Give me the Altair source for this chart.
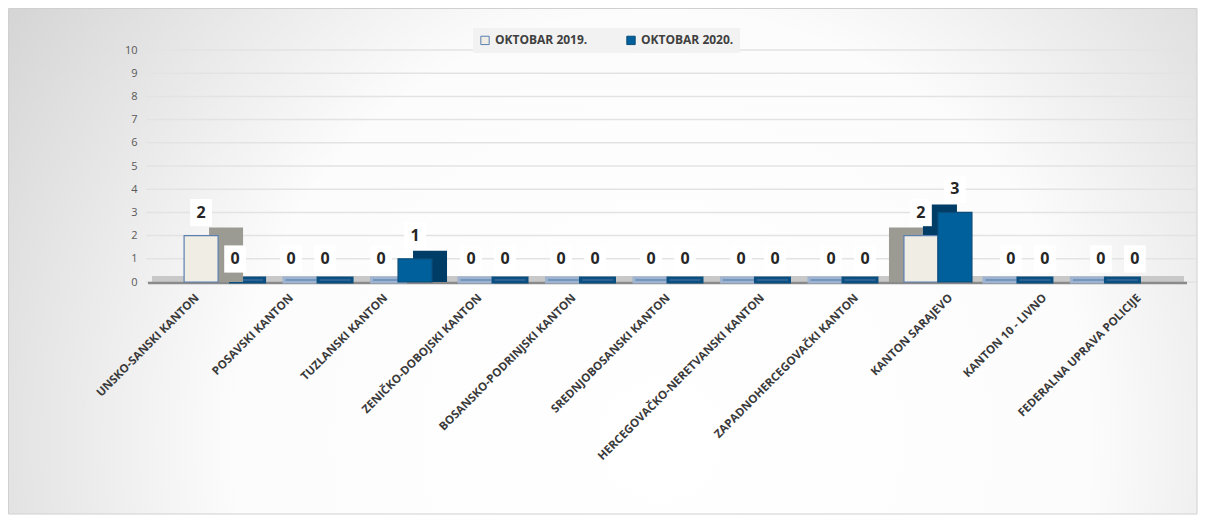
import json
import altair as alt
import pandas as pd

categories = ["UNSKO-SANSKI KANTON", "POSAVSKI KANTON", "TUZLANSKI KANTON",
              "ZENIČKO-DOBOJSKI KANTON", "BOSANSKO-PODRINJSKI KANTON",
              "SREDNJOBOSANSKI KANTON", "HERCEGOVAČKO-NERETVANSKI KANTON",
              "ZAPADNOHERCEGOVAČKI KANTON", "KANTON SARAJEVO",
              "KANTON 10 - LIVNO", "FEDERALNA UPRAVA POLICIJE"]
series = ["OKTOBAR 2019.", "OKTOBAR 2020."]
values_2019 = [2, 0, 0, 0, 0, 0, 0, 0, 2, 0, 0]
values_2020 = [0, 0, 1, 0, 0, 0, 0, 0, 3, 0, 0]
y_ticks = list(range(0, 11))
colors = ["#f0eee4", "#00609c"]

rows = []
for i, (c, a, b) in enumerate(zip(categories, values_2019, values_2020)):
    rows.append({"idx": i, "cat": c, "series": series[0], "s": 0, "value": a})
    rows.append({"idx": i, "cat": c, "series": series[1], "s": 1, "value": b})
df = pd.DataFrame(rows)

W, H = 1036, 232
PL, PT, PR, PB = 142, 42, 1190 - 142 - 1036, 233
BW = 0.361      # bar width in category units
STEP = 0.9554   # bars sit slightly closer together than the labels (perspective)
SHIFT = 0.0425

bg = alt.Chart(pd.DataFrame({"a": [0]})).mark_rect(
    fill=alt.RadialGradient(gradient="radial", x1=0.55, y1=0.65, r1=0, x2=0.55, y2=0.65, r2=0.8,
                            stops=[alt.GradientStop(offset=0, color="#ffffff"),
                                   alt.GradientStop(offset=0.45, color="#fcfcfc"),
                                   alt.GradientStop(offset=1, color="#c2c2c2")]),
    stroke="#d0d0d0", strokeWidth=1
).encode(x=alt.value(-PL + 0.5), x2=alt.value(W + PR - 1), y=alt.value(-PT + 0.5), y2=alt.value(H + PB - 1))

yscale = alt.Scale(domain=[0, 10])
yaxis = alt.Axis(values=y_ticks, grid=False, ticks=False, domain=False, labelOverlap=False,
                 labelFont="Open Sans", labelFontSize=11, labelColor="#595959",
                 labelPadding=13, zindex=1)
xscale = alt.Scale(domain=[-0.5, len(categories) - 0.5], nice=False, zero=False)
xaxis = alt.Axis(values=list(range(len(categories))),
                 labelExpr=json.dumps(categories, ensure_ascii=False) + "[datum.value]",
                 labelAngle=-45, labelAlign="right", labelBaseline="middle", labelOverlap=False,
                 labelFont="Open Sans", labelFontWeight="bold", labelFontSize=11.5,
                 labelColor="#3a3a3a", ticks=False, domain=False, grid=False, labelPadding=14,
                 zindex=1, labelLimit=300)

grid = alt.Chart(pd.DataFrame({"t": y_ticks})).mark_rule(color="#e3e3e3", strokeWidth=1.5).encode(
    y=alt.Y("t:Q", scale=yscale, title=None, axis=yaxis),
    x=alt.value(-4), x2=alt.value(W + 14)
)

floor = alt.Chart(pd.DataFrame({"a": [0]})).mark_rect(color="#c8c8c8").encode(
    x=alt.value(2), x2=alt.value(W - 2), y=alt.value(H - 6), y2=alt.value(H))
floor_edge = alt.Chart(pd.DataFrame({"a": [0]})).mark_rule(color="#8a8a8a", strokeWidth=2.5).encode(
    x=alt.value(-2), x2=alt.value(W + 1), y=alt.value(H + 1))

base = alt.Chart(df).transform_calculate(
    x0=f"{STEP} * datum.idx + {SHIFT} - {BW / 2} + datum.s * {BW}",
    x1=f"{STEP} * datum.idx + {SHIFT} + {BW / 2} + datum.s * {BW}",
    xc=f"{STEP} * datum.idx + {SHIFT} + datum.s * {BW}",
    d="(5 - datum.idx) * 0.053",
    sx0="datum.x0 + datum.d",
    sx1="datum.x1 + datum.d",
    zx0="datum.x0 + datum.d * 0.5",
    zx1="datum.x1 + datum.d * 0.5",
)

shadow = base.mark_rect(yOffset=-8).encode(
    x=alt.X("sx0:Q", scale=xscale, title=None, axis=xaxis),
    x2="sx1:Q",
    y=alt.Y("value:Q", scale=yscale, title=None, axis=yaxis),
    y2=alt.datum(0),
    color=alt.condition(alt.datum.s == 0, alt.value("#9c9b93"), alt.value("#003d66"))
).transform_filter(alt.datum.value > 0)

zero_slab = base.mark_rect(yOffset=-4, strokeWidth=3).encode(
    x=alt.X("zx0:Q", scale=xscale, title=None, axis=xaxis),
    x2="zx1:Q",
    y=alt.Y("value:Q", scale=yscale, title=None, axis=yaxis),
    y2=alt.datum(0),
    stroke=alt.condition(alt.datum.s == 0, alt.value("#9db3cf"), alt.value("#0a4f80"))
).transform_filter(alt.datum.value == 0)

bars = base.mark_rect(strokeWidth=1.2).encode(
    x=alt.X("x0:Q", scale=xscale, title=None, axis=xaxis),
    x2="x1:Q",
    y=alt.Y("value:Q", scale=yscale, title=None, axis=yaxis),
    y2=alt.datum(0),
    color=alt.Color("series:N", sort=series, title=None,
                    scale=alt.Scale(domain=series, range=colors),
                    legend=alt.Legend(orient="none", legendX=323, legendY=-22, direction="horizontal",
                                      symbolType="square", symbolSize=70, symbolStrokeColor="#4a6fa0",
                                      symbolStrokeWidth=1,
                                      labelFont="Open Sans", labelFontWeight="bold", labelFontSize=12,
                                      labelColor="#404040", columnPadding=36, fillColor="#f2f2f2",
                                      padding=6, zindex=1)),
    stroke=alt.Stroke("series:N", scale=alt.Scale(domain=series, range=["#5b7fb0", "#0b4c78"]), legend=None)
).transform_filter(alt.datum.value > 0)

lbl_box = base.mark_point(shape="M-0.8,-1H0.8V1H-0.8Z", size=740, filled=True, color="white",
                          opacity=1, yOffset=-23).encode(
    x=alt.X("xc:Q", scale=xscale, title=None, axis=xaxis),
    y=alt.Y("value:Q", scale=yscale, title=None, axis=yaxis))
lbl_txt = base.mark_text(font="Open Sans", fontWeight="bold", fontSize=16, color="#262626",
                         dy=-23).encode(
    x=alt.X("xc:Q", scale=xscale, title=None, axis=xaxis),
    y=alt.Y("value:Q", scale=yscale, title=None, axis=yaxis), text="value:Q")

chart = alt.layer(bg, grid, floor, floor_edge, zero_slab, shadow, bars, lbl_box, lbl_txt).properties(
    width=W, height=H, autosize=alt.AutoSizeParams(type="none"),
    padding={"left": PL, "top": PT, "right": PR, "bottom": PB}
).configure_view(stroke=None).configure(background="white")

chart.save("out.html", embed_options={"renderer": "svg", "actions": False})
